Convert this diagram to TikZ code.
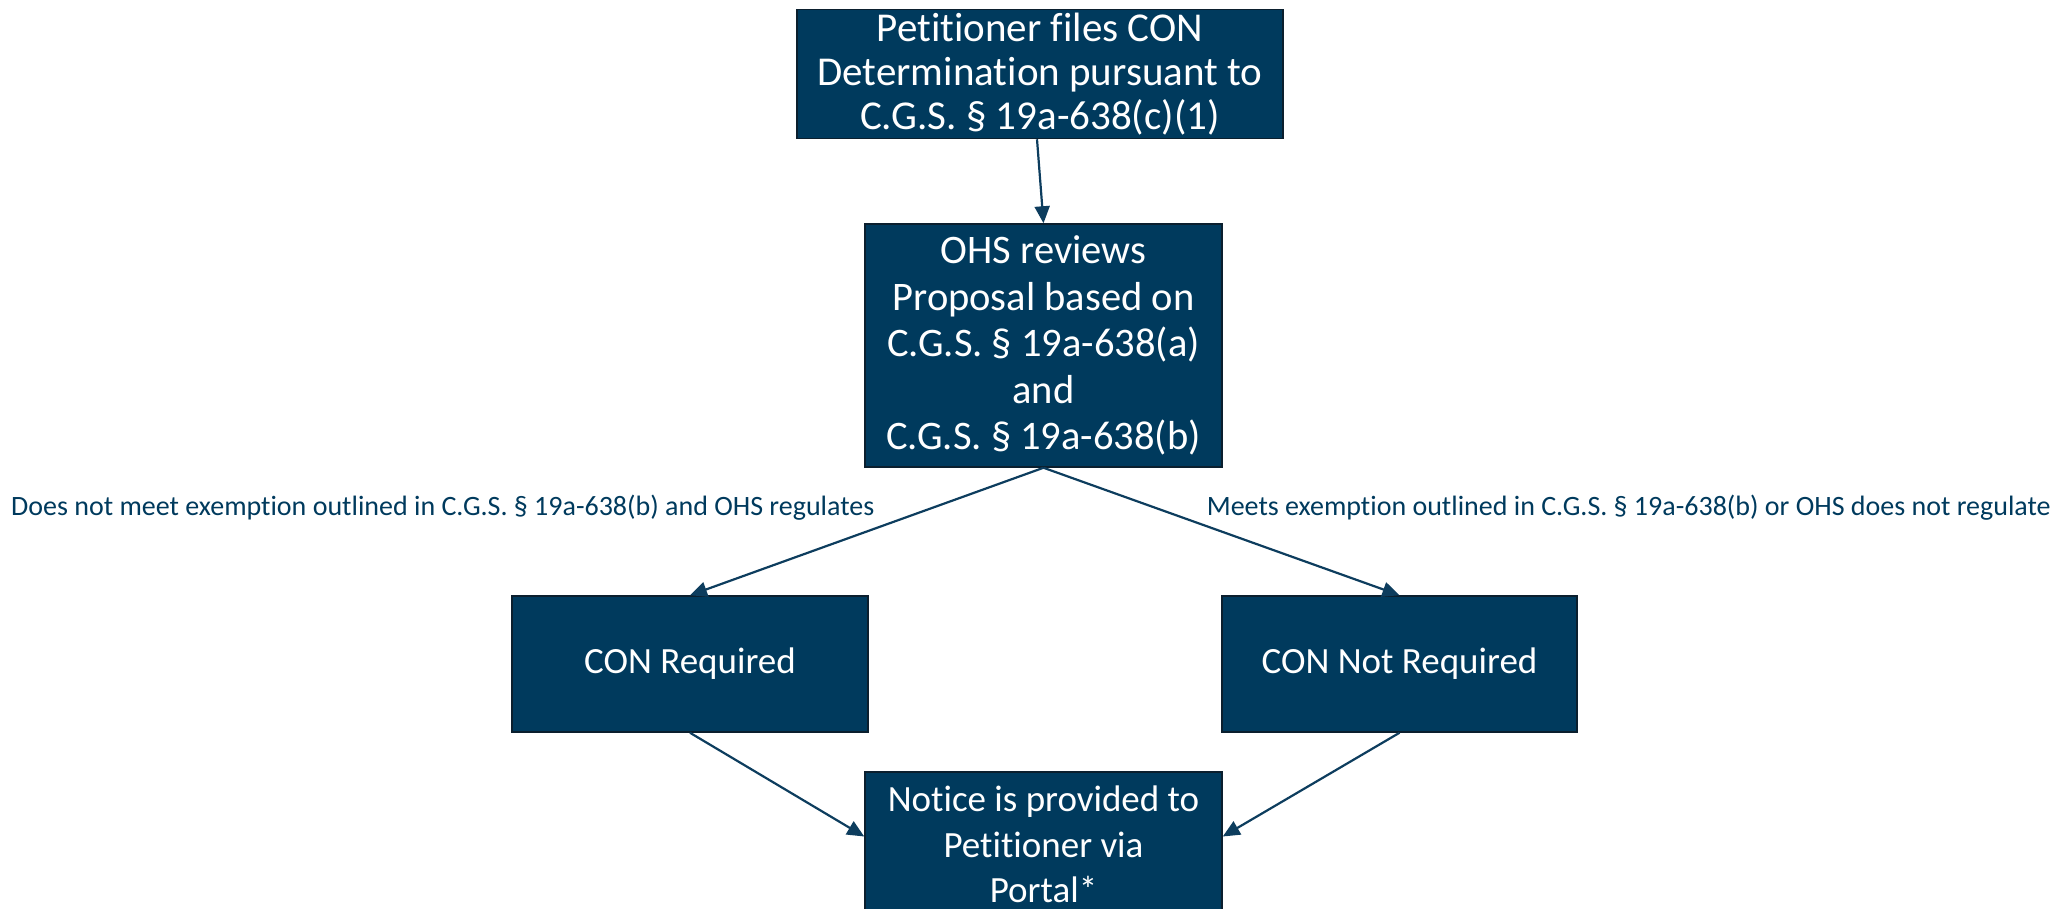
\documentclass[tikz,border=0pt]{standalone}
\usepackage{fontspec}
\setmainfont{Carlito}[Ligatures=NoCommon]
\usetikzlibrary{arrows.meta,positioning}
\definecolor{boxblue}{HTML}{003A5D}
\definecolor{boxedge}{HTML}{0B1F2E}
\definecolor{linkblue}{HTML}{0D3D5E}
\tikzset{
  flowbox/.style={draw=boxedge, line width=1.5pt, fill=boxblue, text=white,
    align=center, inner sep=0pt, font=\fontsize{37}{45.5}\selectfont},
  link/.style={draw=linkblue, line width=2.2pt,
    -{Triangle[length=17pt,width=15pt]}},
  edgelabel/.style={text=boxblue, inner sep=0pt, font=\fontsize{28}{33}\selectfont}
}
\begin{document}
\begin{tikzpicture}[x=1pt,y=-1pt]
\useasboundingbox (0,0) rectangle (2062,908);
\node[flowbox, minimum width=486pt, minimum height=129pt, font=\fontsize{41}{44}\selectfont] (top) at (1040,74)
  {Petitioner files CON\\Determination pursuant to\\C.G.S. \S\ 19a-638(c)(1)};
\node[flowbox, minimum width=357pt, minimum height=243pt, font=\fontsize{40.5}{46.5}\selectfont] (ohs) at (1043.5,345.5)
  {OHS reviews\\Proposal based on\\C.G.S. \S\ 19a-638(a)\\and\\C.G.S. \S\ 19a-638(b)};
\node[flowbox, minimum width=356pt, minimum height=136pt] (req) at (690,664)
  {CON Required};
\node[flowbox, minimum width=355pt, minimum height=136pt] (nreq) at (1399.5,664)
  {CON Not Required};
\node[flowbox, minimum width=357pt, minimum height=145pt] (notice) at (1043.5,844.5)
  {Notice is provided to\\Petitioner via\\Portal*};
\node[edgelabel, anchor=west] (lab1) at (11,508)
  {Does not meet exemption outlined in C.G.S. \S\ 19a-638(b) and OHS regulates};
\node[edgelabel, anchor=east] (lab2) at (2051,508)
  {Meets exemption outlined in C.G.S. \S\ 19a-638(b) or OHS does not regulate};
\draw[link] ([xshift=-3pt]top.south) -- (ohs.north);
\draw[link] (ohs.south) -- (req.north);
\draw[link] (ohs.south) -- (nreq.north);
\draw[link] (req.south) -- ([yshift=8pt]notice.west);
\draw[link] (nreq.south) -- ([yshift=8pt]notice.east);
\end{tikzpicture}
\end{document}
